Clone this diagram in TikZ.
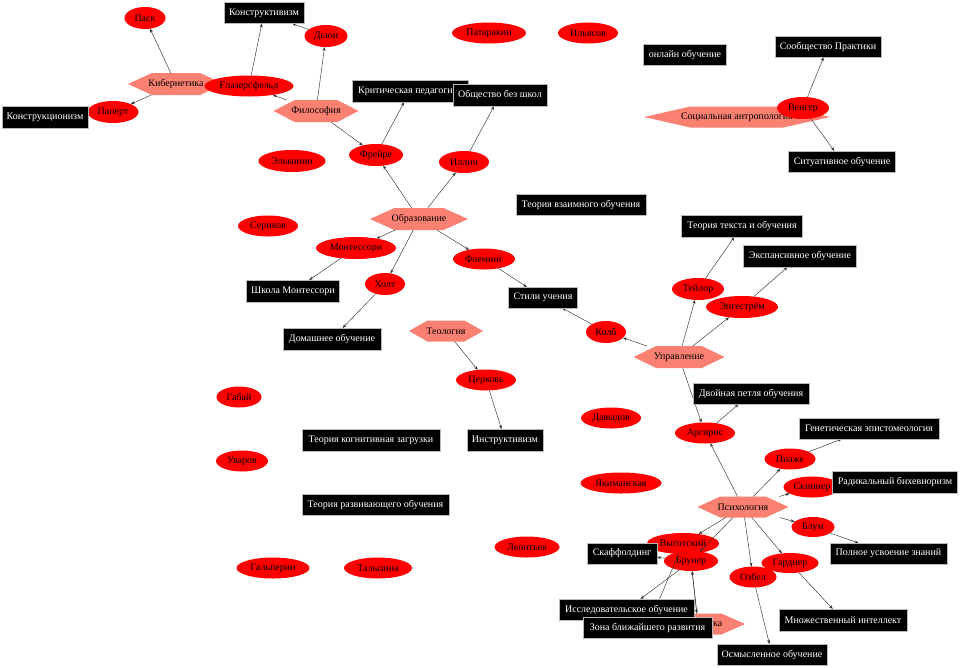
\documentclass[tikz,border=0pt]{standalone}
\usepackage{fontspec}
\setmainfont{Liberation Serif}
\usetikzlibrary{shapes.geometric,arrows.meta,calc}
\definecolor{hexcol}{HTML}{FA8072}
\pgfdeclarelayer{edgelayer}
\pgfdeclarelayer{boxlayer}
\pgfsetlayers{main,edgelayer,boxlayer}
\begin{document}
\begin{tikzpicture}[x=1pt,y=-1pt,
  every node/.style={font=\fontsize{10}{12}\selectfont, inner sep=0pt, outer sep=0pt},
  hexa/.style={rectangle, minimum height=22,
    path picture={\fill[hexcol] (path picture bounding box.west)
      -- ($(path picture bounding box.north west)!0.25!(path picture bounding box.north east)$)
      -- ($(path picture bounding box.north west)!0.75!(path picture bounding box.north east)$)
      -- (path picture bounding box.east)
      -- ($(path picture bounding box.south west)!0.75!(path picture bounding box.south east)$)
      -- ($(path picture bounding box.south west)!0.25!(path picture bounding box.south east)$)
      -- cycle;}},
  ell/.style={ellipse, fill=red, minimum height=21},
  bx/.style={rectangle, fill=black, draw=gray!55, line width=0.8pt, text=white, minimum height=21},
  link/.style={-{Stealth[length=4pt,width=3pt]}, line width=0.45pt, draw=black!80}
]
\useasboundingbox (0,0) rectangle (960,667);
% hexagons
\node[hexa, minimum width=96] (kib) at (176,84) {Кибернетика};
\node[hexa, minimum width=85] (fil) at (316,111) {Философия};
\node[hexa, minimum width=98] (obr) at (419,219) {Образование};
\node[hexa, minimum width=74, minimum height=21] (teo) at (446,331) {Теология};
\node[hexa, minimum width=91] (upr) at (679,357) {Управление};
\node[hexa, minimum width=91, minimum height=21] (psy) at (743,507) {Психология};
\node[hexa, minimum width=186, minimum height=21] (soc) at (737,117) {Социальная антропология};
\node[hexa, minimum width=94, minimum height=21] (ped) at (698,624) {Педагогика};
% ellipses
\node[ell, minimum width=41, minimum height=22] (pask) at (145,18) {Паск};
\node[ell, minimum width=89] (glaz) at (249,86) {Ғлазерсфельд};
\node[ell, minimum width=43, minimum height=22] (dewey) at (326,36) {Дьюи};
\node[ell, minimum width=51, minimum height=22] (papert) at (113,112) {Паперт};
\node[ell, minimum width=67, minimum height=22] (elk) at (292,161) {Эльконин};
\node[ell, minimum width=74] (patar) at (489,33) {Патаракин};
\node[ell, minimum width=60] (ilyas) at (588,33) {Ильясов};
\node[ell, minimum width=54, minimum height=22] (freire) at (376,155) {Фрейре};
\node[ell, minimum width=50, minimum height=22] (illich) at (464,162) {Иллич};
\node[ell, minimum width=52, minimum height=22] (wenger) at (803,108) {Венгер};
\node[ell, minimum width=60] (serik) at (268,226) {Сериков};
\node[ell, minimum width=80, minimum height=22] (mont) at (356,248) {Монтессори};
\node[ell, minimum width=40, minimum height=22] (holt) at (385,284) {Холт};
\node[ell, minimum width=62] (flem) at (484,259) {Флеминг};
\node[ell, minimum width=40, minimum height=22] (kolb) at (606,332) {Колб};
\node[ell, minimum width=52, minimum height=22] (taylor) at (698,289) {Тейлор};
\node[ell, minimum width=72, minimum height=22] (eng) at (742,307) {Энгестрём};
\node[ell, minimum width=60] (church) at (486,380) {Церковь};
\node[ell, minimum width=45] (gabai) at (239,397) {Габай};
\node[ell, minimum width=52] (uvarov) at (242,461) {Уваров};
\node[ell, minimum width=73] (galp) at (273,568) {Гальперин};
\node[ell, minimum width=68] (talyz) at (378,568) {Талызина};
\node[ell, minimum width=65] (leont) at (527,547) {Леонтьев};
\node[ell, minimum width=60] (davyd) at (611,418) {Давыдов};
\node[ell, minimum width=81] (yakim) at (621,483) {Якиманская};
\node[ell, minimum width=60] (arg) at (705,433) {Аргирис};
\node[ell, minimum width=51] (piaget) at (790,459) {Пиаже};
\node[ell, minimum width=57] (skinner) at (812,487) {Скиннер};
\node[ell, minimum width=43, minimum height=20] (bloom) at (813,527) {Блум};
\node[ell, minimum width=72] (vyg) at (683,543.5) {Выготский};
\node[ell, minimum width=54, minimum height=20] (bruner) at (691,561) {Брунер};
\node[ell, minimum width=47] (ausubel) at (753,577) {Озбел};
\node[ell, minimum width=57, minimum height=20] (gardner) at (790,563) {Гарднер};
% boxes
\begin{pgfonlayer}{boxlayer}
\node[bx, minimum width=80] (konstr) at (264,13) {Конструктивизм};
\node[bx, minimum width=86, minimum height=22] (konstrc) at (45,117) {Конструкционизм};
\node[bx, minimum width=116, minimum height=22] (krit) at (410,91) {Критическая педагогика};
\node[bx, minimum width=94, minimum height=22] (obsch) at (500,95) {Общество без школ};
\node[bx, minimum width=83] (online) at (685,54.5) {онлайн обучение};
\node[bx, minimum width=106] (soobsch) at (828,46.5) {Сообщество Практики};
\node[bx, minimum width=107] (situat) at (842,161.5) {Ситуативное обучение};
\node[bx, minimum width=130] (vzaim) at (581,204.5) {Теория взаимного обучения};
\node[bx, minimum width=121, minimum height=22] (ttext) at (742,226) {Теория текста и обучения};
\node[bx, minimum width=113, minimum height=22] (expans) at (800,256) {Экспансивное обучение};
\node[bx, minimum width=69] (stili) at (543,297.5) {Стили учения};
\node[bx, minimum width=93, minimum height=22] (shkmont) at (293,291) {Школа Монтессори};
\node[bx, minimum width=98, minimum height=22] (domash) at (332,339) {Домашнее обучение};
\node[bx, minimum width=138, minimum height=22] (kogn) at (371,440) {Теория когнитивная загрузки};
\node[bx, minimum width=76, minimum height=22] (instr) at (505,440) {Инструктивизм};
\node[bx, minimum width=147] (razv) at (375.5,504.5) {Теория развивающего обучения};
\node[bx, minimum width=116] (dvoin) at (751,393.5) {Двойная петля обучения};
\node[bx, minimum width=140] (genet) at (869,428.5) {Генетическая эпистомеология};
\node[bx, minimum width=125, minimum height=22] (radik) at (895,482) {Радикальный бихевиоризм};
\node[bx, minimum width=117] (polnoe) at (888.5,553.5) {Полное усвоение знаний};
\node[bx, minimum width=70] (scaf) at (622,553.5) {Скаффолдинг};
\node[bx, minimum width=135] (issl) at (626.5,609.5) {Исследовательское обучение};
\node[bx, minimum width=129] (zona) at (647.5,627.5) {Зона ближайшего развития};
\node[bx, minimum width=128, minimum height=22] (mnozh) at (843,620) {Множественный интеллект};
\node[bx, minimum width=110] (osm) at (772,654.5) {Осмысленное обучение};
\end{pgfonlayer}
% edges
\begin{pgfonlayer}{edgelayer}
\draw[link] (kib) -- (pask);
\draw[link] (kib) -- (papert);
\draw[link] (glaz) -- (konstr);
\draw[link] (dewey) -- (konstr);
\draw[link] (fil) -- (glaz);
\draw[link] (fil) -- (dewey);
\draw[link] (fil) -- (freire);
\draw[link] (freire) -- (krit);
\draw[link] (illich) -- (obsch);
\draw[link] (obr) -- (freire);
\draw[link] (obr) -- (illich);
\draw[link] (obr) -- (mont);
\draw[link] (obr) -- (holt);
\draw[link] (obr) -- (flem);
\draw[link] (mont) -- (shkmont);
\draw[link] (holt) -- (domash);
\draw[link] (flem) -- (stili);
\draw[link] (kolb) -- (stili);
\draw[link] (upr) -- (kolb);
\draw[link] (upr) -- (taylor);
\draw[link] (upr) -- (eng);
\draw[link] (taylor) -- (ttext);
\draw[link] (eng) -- (expans);
\draw[link] (upr) -- (arg);
\draw[link] (arg) -- (dvoin);
\draw[link] (psy) -- (arg);
\draw[link] (psy) -- (piaget);
\draw[link] (piaget) -- (genet);
\draw[link] (psy) -- (skinner);
\draw[link] (psy) -- (bloom);
\draw[link] (bloom) -- (polnoe);
\draw[link] (psy) -- (gardner);
\draw[link] (gardner) -- (mnozh);
\draw[link] (psy) -- (ausubel);
\draw[link] (ausubel) -- (osm);
\draw[link] (psy) -- (vyg);
\draw[link] (psy) -- (bruner);
\draw[link] (vyg) -- (scaf);
\draw[link] (bruner) -- (scaf);
\draw[link] (bruner) -- (issl);
\draw[link] (vyg) -- (zona);
\draw[link] (ped) -- (bruner);
\draw[link] (bruner) -- (ped);
\draw[link] (teo) -- (church);
\draw[link] (church) -- (instr);
\draw[link] (wenger) -- (soobsch);
\draw[link] (wenger) -- (situat);
\end{pgfonlayer}
\end{tikzpicture}
\end{document}
